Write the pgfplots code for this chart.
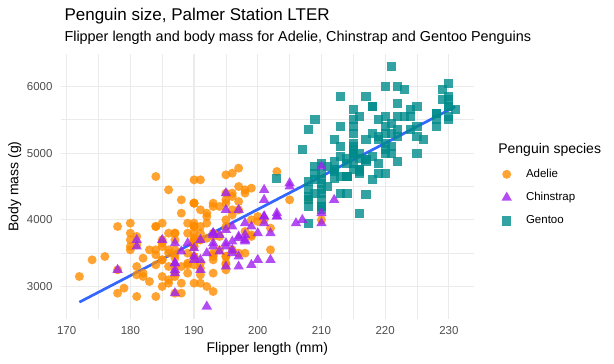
\documentclass[border=0pt]{standalone}
\usepackage{fontspec}
\setmainfont{Liberation Sans}
\usepackage{pgfplots}
\pgfplotsset{compat=1.18}
\definecolor{adelie}{HTML}{FF8C00}
\definecolor{chin}{HTML}{A020F0}
\definecolor{gent}{HTML}{008B8B}
\definecolor{linec}{HTML}{3366FF}
\definecolor{gridc}{HTML}{EBEBEB}
\definecolor{tickc}{HTML}{4D4D4D}
\begin{document}
\begin{tikzpicture}
\useasboundingbox (0,0) rectangle (614bp,364bp);
\begin{axis}[
  at={(60.6bp,45.5bp)}, anchor=south west, scale only axis,
  width=413.4bp, height=264bp,
  xmin=169.05, xmax=233.95, ymin=2520, ymax=6480,
  xtick={170,180,...,230}, ytick={3000,4000,5000,6000},
  minor xtick={175,185,...,225}, minor ytick={3500,4500,5500},
  grid=both,
  major grid style={color=gridc, line width=1.2bp},
  minor grid style={color=gridc, line width=0.7bp},
  axis line style={draw=none}, tick style={draw=none},
  major tick length=0pt, minor tick length=0pt,
  /pgf/number format/.cd, 1000 sep={}, assume math mode=true, /pgfplots/.cd,
  tick label style={font=\fontsize{11.5bp}{13bp}\selectfont, text=tickc},
  xticklabel style={inner sep=0pt, anchor=north, yshift=-7.5bp},
  yticklabel style={inner sep=0pt, anchor=east, xshift=-7.9bp},
  legend style={at={(1.0598,0.5689)}, anchor=north west, draw=none, fill=none,
    inner sep=0pt, outer sep=0pt, row sep=11.3bp, column sep=11.3bp,
    font=\fontsize{11.5bp}{13bp}\selectfont,
    nodes={inner sep=0pt, text height=8.5bp, text depth=2.5bp}},
  legend cell align=left,
  mylegimg/.style={legend image code/.code={\path[draw=none, fill=none] (-8bp,-6bp) rectangle (8bp,6bp); \draw[##1] plot coordinates {(0bp,0bp)};}},
  adstyle/.style={only marks, mark=*, mark size=4.5bp, mark options={fill=adelie, draw=adelie, draw opacity=0, fill opacity=0.8}},
  chstyle/.style={only marks, mark=triangle*, mark size=6bp, mark options={fill=chin, draw=chin, draw opacity=0, fill opacity=0.8}},
  gestyle/.style={only marks, mark=square*, mark size=4.6bp, mark options={fill=gent, draw=gent, draw opacity=0, fill opacity=0.8}},
]
\addlegendimage{adstyle, mylegimg}
\addlegendentry{Adelie}
\addlegendimage{chstyle, mylegimg}
\addlegendentry{Chinstrap}
\addlegendimage{gestyle, mylegimg}
\addlegendentry{Gentoo}
% Adelie
\addplot[adstyle, forget plot] coordinates {
(181,3750)(186,3800)(195,3250)(193,3450)(190,3650)(181,3625)(195,4675)(193,3475)(190,4250)(186,3300)
(180,3700)(182,3200)(191,3800)(198,4400)(185,3700)(195,3450)(197,4500)(184,3325)(194,4200)(174,3400)
(180,3600)(189,3800)(185,3950)(180,3800)(187,3800)(183,3550)(187,3200)(172,3150)(180,3950)(178,3250)
(178,3900)(188,3300)(184,3900)(195,3325)(196,4150)(190,3950)(180,3550)(181,3300)(184,4650)(182,3150)
(195,3900)(186,3100)(196,4400)(185,3000)(190,4600)(182,3425)(179,2975)(190,3450)(191,4150)(186,3500)
(188,4300)(190,3450)(200,4050)(187,2900)(191,3700)(186,3550)(193,3800)(181,2850)(194,3750)(185,3150)
(195,4400)(185,3600)(192,4050)(184,2850)(192,3950)(195,3350)(188,4100)(190,3050)(198,4450)(190,3600)
(190,3900)(196,3550)(197,4150)(190,3700)(195,4250)(191,3700)(184,3900)(187,3550)(195,4000)(189,3200)
(196,4700)(187,3800)(193,4200)(191,3350)(194,3550)(190,3800)(189,3500)(189,3950)(190,3600)(202,3550)
(205,4300)(185,3400)(186,4450)(187,3300)(208,4300)(190,3700)(196,4350)(178,2900)(192,4100)(192,3725)
(203,4725)(183,3075)(190,4250)(193,2925)(184,3550)(199,3750)(190,3900)(181,3175)(197,4775)(198,3825)
(191,4600)(193,3200)(197,4275)(191,3900)(196,4075)(188,2900)(199,3775)(189,3350)(189,3325)(187,3150)
(198,3500)(176,3450)(202,3875)(186,3050)(199,4000)(191,3275)(195,4300)(191,3050)(210,4000)(190,3325)
(197,3500)(193,3500)(199,4475)(187,3425)(190,3900)(191,3175)(200,3975)(185,3400)(193,4250)(193,3400)
(187,3475)(188,3050)(190,3725)(192,3000)(185,3650)(190,4250)(184,3475)(195,3450)(193,3750)(187,3700)
(201,4000)
};
% Gentoo
\addplot[gestyle, forget plot] coordinates {
(211,4500)(230,5700)(210,4450)(218,5700)(215,5400)(210,4550)(211,4800)(219,5200)(209,4400)(215,5150)
(214,4650)(216,5550)(214,4650)(213,5850)(210,4200)(217,5850)(210,4150)(221,6300)(209,4800)(222,5350)
(218,5700)(215,5000)(213,4400)(215,5050)(215,5000)(215,5100)(216,4100)(215,5650)(210,4600)(220,5550)
(222,5250)(209,4700)(207,5050)(230,6050)(220,5150)(220,5400)(213,4950)(219,5250)(208,4350)(208,5350)
(208,3950)(225,5700)(210,4300)(216,4750)(222,5550)(217,4900)(210,4200)(225,5400)(213,5100)(215,5300)
(210,4850)(220,5300)(210,4400)(225,5000)(217,4900)(220,5050)(208,4300)(220,5000)(208,4450)(224,5550)
(208,4200)(221,5300)(214,4400)(231,5650)(219,4700)(230,5700)(214,4650)(229,5800)(220,4700)(223,5550)
(216,4750)(221,5000)(221,5100)(217,5200)(216,4700)(230,5800)(209,4600)(220,6000)(215,4750)(223,5950)
(212,4625)(221,5450)(212,4725)(224,5350)(212,4750)(228,5600)(218,4600)(218,5300)(212,4875)(230,5550)
(218,4950)(228,5400)(212,4750)(224,5650)(214,4850)(226,5200)(216,4925)(222,4875)(203,4625)(225,5250)
(219,4850)(228,5600)(215,4975)(228,5500)(216,4725)(215,5500)(210,4700)(219,5500)(208,4575)(209,5500)
(216,5000)(229,5950)(213,4650)(230,5500)(217,4375)(230,5850)(217,4875)(222,6000)(214,4925)(215,4850)
(222,5750)(212,5200)(213,5400)
};
% Chinstrap
\addplot[chstyle, forget plot] coordinates {
(192,3500)(196,3900)(193,3650)(188,3525)(197,3725)(198,3950)(178,3250)(197,3750)(195,4150)(198,3700)
(193,3800)(194,3775)(185,3700)(201,4050)(190,3575)(201,4050)(197,3300)(181,3700)(190,3450)(195,4400)
(181,3600)(191,3400)(187,2900)(193,3800)(195,3300)(197,4150)(200,3400)(200,3800)(191,3700)(205,4550)
(187,3200)(201,4300)(187,3350)(203,4100)(195,3600)(199,3900)(195,3850)(210,4800)(192,2700)(205,4500)
(210,3950)(187,3650)(196,3550)(196,3500)(196,3675)(201,4450)(190,3400)(212,4300)(187,3250)(198,3675)
(199,3325)(201,3950)(193,3600)(203,4050)(187,3350)(197,3450)(191,3250)(203,4050)(202,3800)(194,3525)
(206,3950)(189,3650)(195,3650)(207,4000)(202,3400)(193,3775)(210,4100)(198,3775)
};
% linear fit
\addplot[color=linec, line width=2.7bp, forget plot] coordinates {(172,2765.2) (231,5696.6)};
\end{axis}
\node[anchor=base west, font=\fontsize{17bp}{19bp}\selectfont] at (61bp,343.3bp) {Penguin size, Palmer Station LTER};
\node[anchor=base west, font=\fontsize{14.4bp}{16bp}\selectfont] at (61bp,322.2bp) {Flipper length and body mass for Adelie, Chinstrap and Gentoo Penguins};
\node[anchor=base, font=\fontsize{14bp}{16bp}\selectfont] at (267.3bp,11.5bp) {Flipper length (mm)};
\node[anchor=base, rotate=90, font=\fontsize{14bp}{16bp}\selectfont] at (18.3bp,177.5bp) {Body mass (g)};
\node[anchor=base west, font=\fontsize{14bp}{16bp}\selectfont] at (494.8bp,210bp) {Penguin species};
\end{tikzpicture}
\end{document}
